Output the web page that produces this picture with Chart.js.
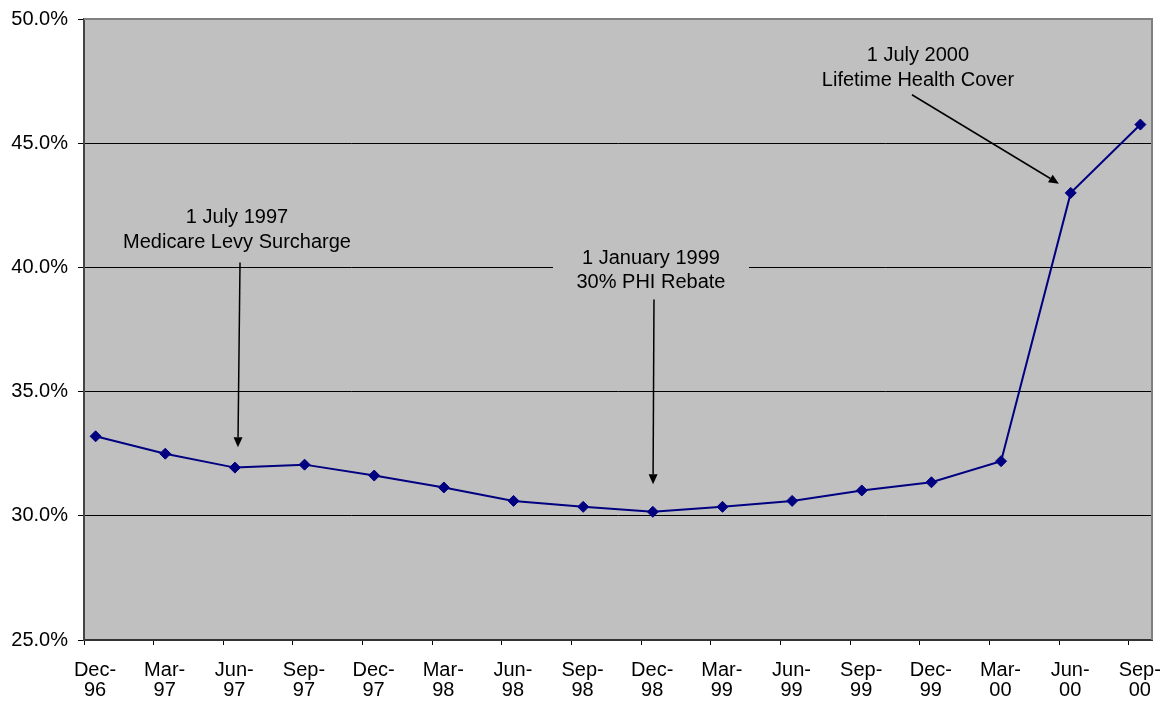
<!DOCTYPE html>
<html>
<head>
<meta charset="utf-8">
<script src="https://cdn.jsdelivr.net/npm/chart.js@4/dist/chart.umd.min.js"></script>
<style>
  html, body { margin: 0; padding: 0; background: #ffffff; }
  #wrap { width: 1167px; height: 702px; }
</style>
</head>
<body>
<div id="wrap"><canvas id="c" width="1167" height="702"></canvas></div>
<script>
// ---- data ----
const tickLabels = ['Dec-96','Mar-97','Jun-97','Sep-97','Dec-97','Mar-98','Jun-98','Sep-98',
                    'Dec-98','Mar-99','Jun-99','Sep-99','Dec-99','Mar-00','Jun-00','Sep-00'];
const coverage = [33.2, 32.5, 31.94, 32.06, 31.62, 31.14, 30.60, 30.36,
                  30.16, 30.36, 30.60, 31.02, 31.35, 32.20, 43.0, 45.75];
// months since Dec-96 for each observation (mid-month dates)
const obsMonths = [0.5, 3.5, 6.5, 9.5, 12.5, 15.5, 18.5, 21.5,
                   24.5, 27.5, 30.5, 33.5, 36.5, 39.5, 42.5, 45.5];
const yTicks = [25, 30, 35, 40, 45, 50];

// annotations in data units (x: months since Dec-96, y: percent)
const notes = [
  { lines: ['1 July 1997', 'Medicare Levy Surcharge'], x: 6.59, y: [42.01, 41.0],
    from: [6.72, 40.2], to: [6.63, 32.76], box: false },
  { lines: ['1 January 1999', '30% PHI Rebate'], x: 24.42, y: [40.36, 39.39],
    from: [24.55, 38.71], to: [24.51, 31.27], box: true },
  { lines: ['1 July 2000', 'Lifetime Health Cover'], x: 35.92, y: [48.52, 47.52],
    from: [35.66, 46.95], to: [41.99, 43.37], box: false }
];

const FONT = "'Liberation Sans', Arial, sans-serif";

const bgPlugin = {
  id: 'bg',
  beforeDraw(chart) {
    const { ctx, chartArea: a } = chart;
    ctx.save();
    ctx.fillStyle = '#C0C0C0';
    ctx.fillRect(a.left, a.top, a.right - a.left, a.bottom - a.top);
    ctx.restore();
  }
};

function arrow(ctx, x1, y1, x2, y2) {
  const ang = Math.atan2(y2 - y1, x2 - x1);
  const len = 10, half = 4.5;
  const bx = x2 - len * Math.cos(ang), by = y2 - len * Math.sin(ang);
  ctx.beginPath();
  ctx.moveTo(x1, y1);
  ctx.lineTo(bx, by);
  ctx.stroke();
  ctx.beginPath();
  ctx.moveTo(x2, y2);
  ctx.lineTo(bx + half * Math.sin(ang), by - half * Math.cos(ang));
  ctx.lineTo(bx - half * Math.sin(ang), by + half * Math.cos(ang));
  ctx.closePath();
  ctx.fill();
}

const borderPlugin = {
  id: 'frame',
  afterDraw(chart) {
    const { ctx, chartArea: a, scales: { x, y } } = chart;
    ctx.save();
    ctx.strokeStyle = '#808080';
    ctx.lineWidth = 2;
    ctx.beginPath();
    ctx.moveTo(a.left, a.top);
    ctx.lineTo(a.right, a.top);
    ctx.lineTo(a.right, a.bottom);
    ctx.stroke();

    ctx.font = '20px ' + FONT;
    ctx.textAlign = 'center';
    ctx.textBaseline = 'middle';
    notes.forEach(n => {
      const cx = x.getPixelForValue(n.x);
      if (n.box) {
        const t = y.getPixelForValue(n.y[0]) - 13;
        const b = y.getPixelForValue(n.y[1]) + 14;
        ctx.fillStyle = '#C0C0C0';
        ctx.fillRect(cx - 98, t, 196, b - t);
      }
      ctx.fillStyle = '#000';
      n.lines.forEach((s, i) => ctx.fillText(s, cx, y.getPixelForValue(n.y[i])));
      ctx.strokeStyle = '#000';
      ctx.lineWidth = 1.5;
      arrow(ctx, x.getPixelForValue(n.from[0]), y.getPixelForValue(n.from[1]),
                 x.getPixelForValue(n.to[0]), y.getPixelForValue(n.to[1]));
    });
    ctx.restore();
  }
};

new Chart(document.getElementById('c'), {
  type: 'line',
  data: {
    datasets: [{
      data: coverage.map((v, i) => ({ x: obsMonths[i], y: v })),
      borderColor: '#000080',
      backgroundColor: '#000080',
      borderWidth: 2,
      pointStyle: 'rectRot',
      pointRadius: 5.5,
      pointHoverRadius: 5.5,
      pointBorderWidth: 1,
      tension: 0
    }]
  },
  options: {
    responsive: false,
    animation: false,
    events: [],
    layout: { padding: { top: 19, right: 15, left: 0, bottom: 0 } },
    plugins: { legend: { display: false }, tooltip: { enabled: false } },
    scales: {
      x: {
        type: 'linear',
        min: 0,
        max: 46,
        afterBuildTicks: s => { s.ticks = tickLabels.map((_, i) => ({ value: i * 3 })); },
        afterFit: s => { s.height = 62; s.paddingLeft = 0; s.paddingRight = 0; },
        ticks: {
          autoSkip: false,
          maxRotation: 0,
          minRotation: 0,
          labelOffset: 11,
          padding: 15,
          color: '#000',
          font: { family: FONT, size: 20, lineHeight: 1.0 },
          callback: v => {
            const lab = tickLabels[Math.round(v / 3)];
            const k = lab.indexOf('-');
            return [lab.slice(0, k + 1), lab.slice(k + 1)];
          }
        },
        grid: { drawOnChartArea: false, drawTicks: true, tickLength: 5, color: '#000', lineWidth: 1 },
        border: { color: '#333', width: 2 }
      },
      y: {
        min: 25,
        max: 50,
        afterBuildTicks: s => { s.ticks = yTicks.map(v => ({ value: v })); },
        afterFit: s => { s.width = 84; s.paddingTop = 0; s.paddingBottom = 0; },
        ticks: {
          padding: 10,
          color: '#000',
          font: { family: FONT, size: 20 },
          callback: v => v.toFixed(1) + '%'
        },
        grid: { color: '#000', lineWidth: 1, tickLength: 6, drawTicks: true },
        border: { color: '#444', width: 2 }
      }
    }
  },
  plugins: [bgPlugin, borderPlugin]
});
</script>
</body>
</html>
